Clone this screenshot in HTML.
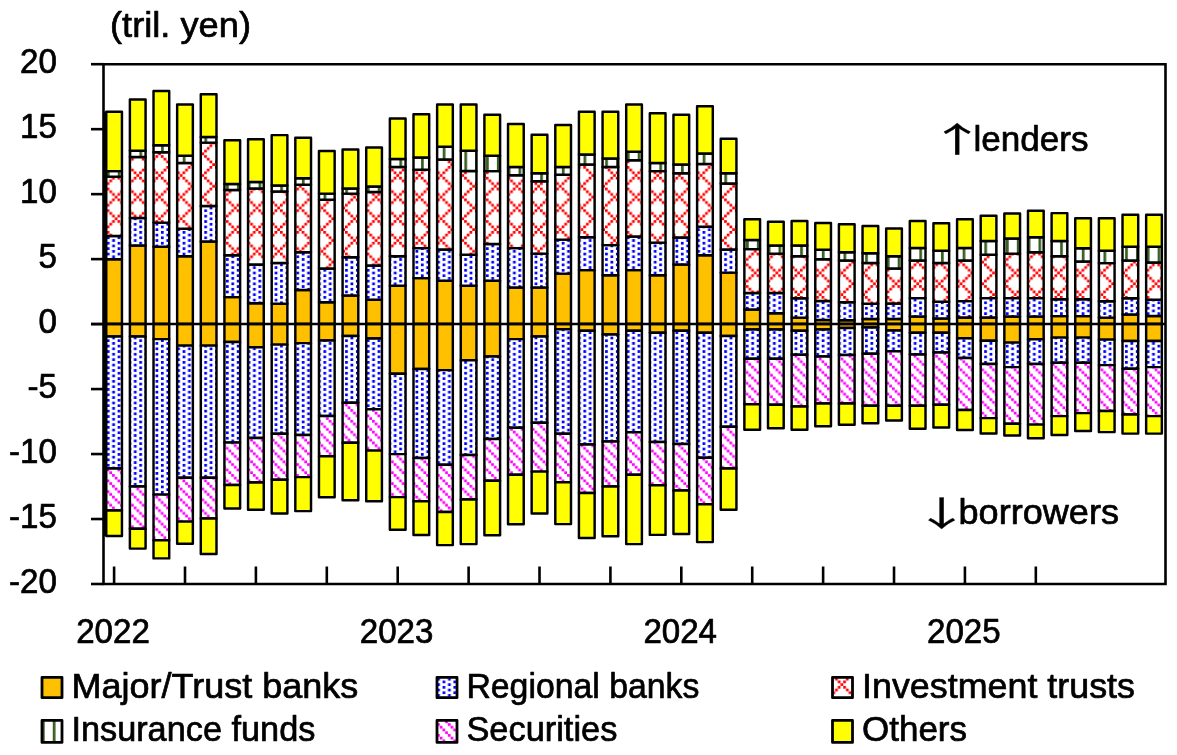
<!DOCTYPE html>
<html lang="en">
<head>
<meta charset="utf-8">
<title>Chart</title>
<style>
html,body{margin:0;padding:0;background:#fff;}
body{width:1177px;height:755px;overflow:hidden;}
svg{display:block;filter:blur(0.45px);}
svg text{font-family:"Liberation Sans",sans-serif;fill:#000;stroke:#000;stroke-width:0.7px;stroke-linejoin:round;}
</style>
</head>
<body>
<svg width="1177" height="755" viewBox="0 0 1177 755">
<rect width="1177" height="755" fill="#fff"/>
<defs>
<pattern id="pB" patternUnits="userSpaceOnUse" x="106.806" y="339.346" width="10.832" height="5.416"><rect width="10.832" height="5.416" fill="#fff"/><rect x="0" y="0" width="2.708" height="2.708" fill="#0000ff"/><rect x="5.416" y="2.708" width="2.708" height="2.708" fill="#0000ff"/></pattern>
<pattern id="pR" patternUnits="userSpaceOnUse" x="20.01" y="14.338" width="21.664" height="21.664"><rect width="21.664" height="21.664" fill="#fff"/><rect x="0" y="0" width="2.708" height="2.708" fill="#ff0000"/><rect x="16.248" y="0" width="2.708" height="2.708" fill="#ff0000"/><rect x="2.708" y="2.708" width="2.708" height="2.708" fill="#ff0000"/><rect x="13.54" y="2.708" width="2.708" height="2.708" fill="#ff0000"/><rect x="5.416" y="5.416" width="2.708" height="2.708" fill="#ff0000"/><rect x="10.832" y="5.416" width="2.708" height="2.708" fill="#ff0000"/><rect x="8.124" y="8.124" width="2.708" height="2.708" fill="#ff0000"/><rect x="5.416" y="10.832" width="2.708" height="2.708" fill="#ff0000"/><rect x="10.832" y="10.832" width="2.708" height="2.708" fill="#ff0000"/><rect x="2.708" y="13.54" width="2.708" height="2.708" fill="#ff0000"/><rect x="13.54" y="13.54" width="2.708" height="2.708" fill="#ff0000"/><rect x="0" y="16.248" width="2.708" height="2.708" fill="#ff0000"/><rect x="16.248" y="16.248" width="2.708" height="2.708" fill="#ff0000"/><rect x="18.956" y="18.956" width="2.708" height="2.708" fill="#ff0000"/></pattern>
<pattern id="pP" patternUnits="userSpaceOnUse" x="816.146" y="365.746" width="10.832" height="10.832"><rect width="10.832" height="10.832" fill="#fff"/><rect x="0" y="0" width="2.708" height="2.708" fill="#ff00ff"/><rect x="2.708" y="2.708" width="2.708" height="2.708" fill="#ff00ff"/><rect x="5.416" y="5.416" width="2.708" height="2.708" fill="#ff00ff"/><rect x="8.124" y="8.124" width="2.708" height="2.708" fill="#ff00ff"/></pattern>
<pattern id="pG" patternUnits="userSpaceOnUse" x="1060.146" y="0" width="10.832" height="10.832"><rect width="10.832" height="10.832" fill="#fff"/><rect width="2.708" height="10.832" fill="#386020"/></pattern>
</defs>
<g fill="none" stroke="#000" stroke-width="2.6" stroke-linecap="butt">
<path d="M103.5 64.2H1165.5V584H103.5Z" />
<path d="M91 64.2H103.5"/>
<path d="M91 129.175H103.5"/>
<path d="M91 194.15H103.5"/>
<path d="M91 259.125H103.5"/>
<path d="M91 324.1H103.5"/>
<path d="M91 389.075H103.5"/>
<path d="M91 454.05H103.5"/>
<path d="M91 519.025H103.5"/>
<path d="M91 584H103.5"/>
<path d="M114.1 584V566.5"/>
<path d="M185.002 584V566.5"/>
<path d="M255.904 584V566.5"/>
<path d="M326.806 584V566.5"/>
<path d="M397.708 584V566.5"/>
<path d="M468.61 584V566.5"/>
<path d="M539.512 584V566.5"/>
<path d="M610.414 584V566.5"/>
<path d="M681.316 584V566.5"/>
<path d="M752.218 584V566.5"/>
<path d="M823.12 584V566.5"/>
<path d="M894.022 584V566.5"/>
<path d="M964.924 584V566.5"/>
<path d="M1035.826 584V566.5"/>
</g>
<g stroke="#000" stroke-width="2.45" stroke-linejoin="round">
<rect x="104" y="111.7" width="1.6" height="424.2" fill="#000" stroke="none"/>
<rect x="106.25" y="259.3" width="15.7" height="64.7" fill="#ffc000"/>
<rect x="106.25" y="235.9" width="15.7" height="23.4" fill="url(#pB)"/>
<rect x="106.25" y="176.6" width="15.7" height="59.3" fill="url(#pR)"/>
<rect x="106.25" y="171.1" width="15.7" height="5.5" fill="url(#pG)"/>
<rect x="106.25" y="111.7" width="15.7" height="59.4" fill="#ffff00"/>
<rect x="106.25" y="324" width="15.7" height="12.4" fill="#ffc000"/>
<rect x="106.25" y="336.4" width="15.7" height="132.1" fill="url(#pB)"/>
<rect x="106.25" y="468.5" width="15.7" height="41.9" fill="url(#pP)"/>
<rect x="106.25" y="510.4" width="15.7" height="25.5" fill="#ffff00"/>
<rect x="129.884" y="245.5" width="15.7" height="78.5" fill="#ffc000"/>
<rect x="129.884" y="218.1" width="15.7" height="27.4" fill="url(#pB)"/>
<rect x="129.884" y="156.9" width="15.7" height="61.2" fill="url(#pR)"/>
<rect x="129.884" y="150.7" width="15.7" height="6.2" fill="url(#pG)"/>
<rect x="129.884" y="99.4" width="15.7" height="51.3" fill="#ffff00"/>
<rect x="129.884" y="324" width="15.7" height="12.4" fill="#ffc000"/>
<rect x="129.884" y="336.4" width="15.7" height="150.1" fill="url(#pB)"/>
<rect x="129.884" y="486.5" width="15.7" height="42.2" fill="url(#pP)"/>
<rect x="129.884" y="528.7" width="15.7" height="19.9" fill="#ffff00"/>
<rect x="153.518" y="246.7" width="15.7" height="77.3" fill="#ffc000"/>
<rect x="153.518" y="222.6" width="15.7" height="24.1" fill="url(#pB)"/>
<rect x="153.518" y="152.2" width="15.7" height="70.4" fill="url(#pR)"/>
<rect x="153.518" y="145.2" width="15.7" height="7" fill="url(#pG)"/>
<rect x="153.518" y="90.9" width="15.7" height="54.3" fill="#ffff00"/>
<rect x="153.518" y="324" width="15.7" height="15.1" fill="#ffc000"/>
<rect x="153.518" y="339.1" width="15.7" height="155.5" fill="url(#pB)"/>
<rect x="153.518" y="494.6" width="15.7" height="45.7" fill="url(#pP)"/>
<rect x="153.518" y="540.3" width="15.7" height="18.1" fill="#ffff00"/>
<rect x="177.152" y="256.3" width="15.7" height="67.7" fill="#ffc000"/>
<rect x="177.152" y="228.7" width="15.7" height="27.6" fill="url(#pB)"/>
<rect x="177.152" y="163" width="15.7" height="65.7" fill="url(#pR)"/>
<rect x="177.152" y="155.8" width="15.7" height="7.2" fill="url(#pG)"/>
<rect x="177.152" y="104.5" width="15.7" height="51.3" fill="#ffff00"/>
<rect x="177.152" y="324" width="15.7" height="21.6" fill="#ffc000"/>
<rect x="177.152" y="345.6" width="15.7" height="132.1" fill="url(#pB)"/>
<rect x="177.152" y="477.7" width="15.7" height="43.9" fill="url(#pP)"/>
<rect x="177.152" y="521.6" width="15.7" height="22.1" fill="#ffff00"/>
<rect x="200.786" y="241.4" width="15.7" height="82.6" fill="#ffc000"/>
<rect x="200.786" y="205.9" width="15.7" height="35.5" fill="url(#pB)"/>
<rect x="200.786" y="142.6" width="15.7" height="63.3" fill="url(#pR)"/>
<rect x="200.786" y="137" width="15.7" height="5.6" fill="url(#pG)"/>
<rect x="200.786" y="94.3" width="15.7" height="42.7" fill="#ffff00"/>
<rect x="200.786" y="324" width="15.7" height="21.6" fill="#ffc000"/>
<rect x="200.786" y="345.6" width="15.7" height="132.1" fill="url(#pB)"/>
<rect x="200.786" y="477.7" width="15.7" height="40.8" fill="url(#pP)"/>
<rect x="200.786" y="518.5" width="15.7" height="35.4" fill="#ffff00"/>
<rect x="224.42" y="297.1" width="15.7" height="26.9" fill="#ffc000"/>
<rect x="224.42" y="255.3" width="15.7" height="41.8" fill="url(#pB)"/>
<rect x="224.42" y="190" width="15.7" height="65.3" fill="url(#pR)"/>
<rect x="224.42" y="184" width="15.7" height="6" fill="url(#pG)"/>
<rect x="224.42" y="140.2" width="15.7" height="43.8" fill="#ffff00"/>
<rect x="224.42" y="324" width="15.7" height="17.9" fill="#ffc000"/>
<rect x="224.42" y="341.9" width="15.7" height="100.7" fill="url(#pB)"/>
<rect x="224.42" y="442.6" width="15.7" height="42.3" fill="url(#pP)"/>
<rect x="224.42" y="484.9" width="15.7" height="23.5" fill="#ffff00"/>
<rect x="248.054" y="303.2" width="15.7" height="20.8" fill="#ffc000"/>
<rect x="248.054" y="264.4" width="15.7" height="38.8" fill="url(#pB)"/>
<rect x="248.054" y="188.5" width="15.7" height="75.9" fill="url(#pR)"/>
<rect x="248.054" y="182" width="15.7" height="6.5" fill="url(#pG)"/>
<rect x="248.054" y="139.2" width="15.7" height="42.8" fill="#ffff00"/>
<rect x="248.054" y="324" width="15.7" height="23.2" fill="#ffc000"/>
<rect x="248.054" y="347.2" width="15.7" height="90.8" fill="url(#pB)"/>
<rect x="248.054" y="438" width="15.7" height="44.4" fill="url(#pP)"/>
<rect x="248.054" y="482.4" width="15.7" height="27.4" fill="#ffff00"/>
<rect x="271.688" y="303.8" width="15.7" height="20.2" fill="#ffc000"/>
<rect x="271.688" y="263" width="15.7" height="40.8" fill="url(#pB)"/>
<rect x="271.688" y="191.5" width="15.7" height="71.5" fill="url(#pR)"/>
<rect x="271.688" y="185.4" width="15.7" height="6.1" fill="url(#pG)"/>
<rect x="271.688" y="135.1" width="15.7" height="50.3" fill="#ffff00"/>
<rect x="271.688" y="324" width="15.7" height="20.6" fill="#ffc000"/>
<rect x="271.688" y="344.6" width="15.7" height="89.1" fill="url(#pB)"/>
<rect x="271.688" y="433.7" width="15.7" height="46.1" fill="url(#pP)"/>
<rect x="271.688" y="479.8" width="15.7" height="33.7" fill="#ffff00"/>
<rect x="295.322" y="289.9" width="15.7" height="34.1" fill="#ffc000"/>
<rect x="295.322" y="252.2" width="15.7" height="37.7" fill="url(#pB)"/>
<rect x="295.322" y="184.8" width="15.7" height="67.4" fill="url(#pR)"/>
<rect x="295.322" y="178.3" width="15.7" height="6.5" fill="url(#pG)"/>
<rect x="295.322" y="137.7" width="15.7" height="40.6" fill="#ffff00"/>
<rect x="295.322" y="324" width="15.7" height="19.1" fill="#ffc000"/>
<rect x="295.322" y="343.1" width="15.7" height="91.8" fill="url(#pB)"/>
<rect x="295.322" y="434.9" width="15.7" height="42.2" fill="url(#pP)"/>
<rect x="295.322" y="477.1" width="15.7" height="34" fill="#ffff00"/>
<rect x="318.956" y="302.2" width="15.7" height="21.8" fill="#ffc000"/>
<rect x="318.956" y="268.5" width="15.7" height="33.7" fill="url(#pB)"/>
<rect x="318.956" y="199.7" width="15.7" height="68.8" fill="url(#pR)"/>
<rect x="318.956" y="193.6" width="15.7" height="6.1" fill="url(#pG)"/>
<rect x="318.956" y="151" width="15.7" height="42.6" fill="#ffff00"/>
<rect x="318.956" y="324" width="15.7" height="16.5" fill="#ffc000"/>
<rect x="318.956" y="340.5" width="15.7" height="75.4" fill="url(#pB)"/>
<rect x="318.956" y="415.9" width="15.7" height="40.3" fill="url(#pP)"/>
<rect x="318.956" y="456.2" width="15.7" height="41" fill="#ffff00"/>
<rect x="342.59" y="295.6" width="15.7" height="28.4" fill="#ffc000"/>
<rect x="342.59" y="257.3" width="15.7" height="38.3" fill="url(#pB)"/>
<rect x="342.59" y="193.6" width="15.7" height="63.7" fill="url(#pR)"/>
<rect x="342.59" y="188.5" width="15.7" height="5.1" fill="url(#pG)"/>
<rect x="342.59" y="149.4" width="15.7" height="39.1" fill="#ffff00"/>
<rect x="342.59" y="324" width="15.7" height="12" fill="#ffc000"/>
<rect x="342.59" y="336" width="15.7" height="66.7" fill="url(#pB)"/>
<rect x="342.59" y="402.7" width="15.7" height="40.1" fill="url(#pP)"/>
<rect x="342.59" y="442.8" width="15.7" height="57.5" fill="#ffff00"/>
<rect x="366.224" y="299.7" width="15.7" height="24.3" fill="#ffc000"/>
<rect x="366.224" y="265.4" width="15.7" height="34.3" fill="url(#pB)"/>
<rect x="366.224" y="192.1" width="15.7" height="73.3" fill="url(#pR)"/>
<rect x="366.224" y="186.4" width="15.7" height="5.7" fill="url(#pG)"/>
<rect x="366.224" y="147.4" width="15.7" height="39" fill="#ffff00"/>
<rect x="366.224" y="324" width="15.7" height="14.5" fill="#ffc000"/>
<rect x="366.224" y="338.5" width="15.7" height="70.7" fill="url(#pB)"/>
<rect x="366.224" y="409.2" width="15.7" height="41.4" fill="url(#pP)"/>
<rect x="366.224" y="450.6" width="15.7" height="50.7" fill="#ffff00"/>
<rect x="389.858" y="285.8" width="15.7" height="38.2" fill="#ffc000"/>
<rect x="389.858" y="256.3" width="15.7" height="29.5" fill="url(#pB)"/>
<rect x="389.858" y="167" width="15.7" height="89.3" fill="url(#pR)"/>
<rect x="389.858" y="158.9" width="15.7" height="8.1" fill="url(#pG)"/>
<rect x="389.858" y="118.4" width="15.7" height="40.5" fill="#ffff00"/>
<rect x="389.858" y="324" width="15.7" height="49.7" fill="#ffc000"/>
<rect x="389.858" y="373.7" width="15.7" height="80.4" fill="url(#pB)"/>
<rect x="389.858" y="454.1" width="15.7" height="43" fill="url(#pP)"/>
<rect x="389.858" y="497.1" width="15.7" height="32.7" fill="#ffff00"/>
<rect x="413.492" y="278.1" width="15.7" height="45.9" fill="#ffc000"/>
<rect x="413.492" y="248.1" width="15.7" height="30" fill="url(#pB)"/>
<rect x="413.492" y="169.7" width="15.7" height="78.4" fill="url(#pR)"/>
<rect x="413.492" y="157.5" width="15.7" height="12.2" fill="url(#pG)"/>
<rect x="413.492" y="114.3" width="15.7" height="43.2" fill="#ffff00"/>
<rect x="413.492" y="324" width="15.7" height="45" fill="#ffc000"/>
<rect x="413.492" y="369" width="15.7" height="89" fill="url(#pB)"/>
<rect x="413.492" y="458" width="15.7" height="43.2" fill="url(#pP)"/>
<rect x="413.492" y="501.2" width="15.7" height="33.7" fill="#ffff00"/>
<rect x="437.126" y="280.7" width="15.7" height="43.3" fill="#ffc000"/>
<rect x="437.126" y="249.5" width="15.7" height="31.2" fill="url(#pB)"/>
<rect x="437.126" y="159.5" width="15.7" height="90" fill="url(#pR)"/>
<rect x="437.126" y="146.7" width="15.7" height="12.8" fill="url(#pG)"/>
<rect x="437.126" y="104.5" width="15.7" height="42.2" fill="#ffff00"/>
<rect x="437.126" y="324" width="15.7" height="46.1" fill="#ffc000"/>
<rect x="437.126" y="370.1" width="15.7" height="94.6" fill="url(#pB)"/>
<rect x="437.126" y="464.7" width="15.7" height="47.3" fill="url(#pP)"/>
<rect x="437.126" y="512" width="15.7" height="33.1" fill="#ffff00"/>
<rect x="460.76" y="285.8" width="15.7" height="38.2" fill="#ffc000"/>
<rect x="460.76" y="254.8" width="15.7" height="31" fill="url(#pB)"/>
<rect x="460.76" y="171.1" width="15.7" height="83.7" fill="url(#pR)"/>
<rect x="460.76" y="150.7" width="15.7" height="20.4" fill="url(#pG)"/>
<rect x="460.76" y="104.5" width="15.7" height="46.2" fill="#ffff00"/>
<rect x="460.76" y="324" width="15.7" height="36.3" fill="#ffc000"/>
<rect x="460.76" y="360.3" width="15.7" height="94.7" fill="url(#pB)"/>
<rect x="460.76" y="455" width="15.7" height="44.5" fill="url(#pP)"/>
<rect x="460.76" y="499.5" width="15.7" height="44.6" fill="#ffff00"/>
<rect x="484.394" y="280.7" width="15.7" height="43.3" fill="#ffc000"/>
<rect x="484.394" y="244" width="15.7" height="36.7" fill="url(#pB)"/>
<rect x="484.394" y="171.1" width="15.7" height="72.9" fill="url(#pR)"/>
<rect x="484.394" y="155.8" width="15.7" height="15.3" fill="url(#pG)"/>
<rect x="484.394" y="114.7" width="15.7" height="41.1" fill="#ffff00"/>
<rect x="484.394" y="324" width="15.7" height="32.4" fill="#ffc000"/>
<rect x="484.394" y="356.4" width="15.7" height="82.6" fill="url(#pB)"/>
<rect x="484.394" y="439" width="15.7" height="41.8" fill="url(#pP)"/>
<rect x="484.394" y="480.8" width="15.7" height="54.5" fill="#ffff00"/>
<rect x="508.028" y="287.5" width="15.7" height="36.5" fill="#ffc000"/>
<rect x="508.028" y="248.1" width="15.7" height="39.4" fill="url(#pB)"/>
<rect x="508.028" y="175.2" width="15.7" height="72.9" fill="url(#pR)"/>
<rect x="508.028" y="167" width="15.7" height="8.2" fill="url(#pG)"/>
<rect x="508.028" y="123.9" width="15.7" height="43.1" fill="#ffff00"/>
<rect x="508.028" y="324" width="15.7" height="15.1" fill="#ffc000"/>
<rect x="508.028" y="339.1" width="15.7" height="88.7" fill="url(#pB)"/>
<rect x="508.028" y="427.8" width="15.7" height="46.9" fill="url(#pP)"/>
<rect x="508.028" y="474.7" width="15.7" height="49.6" fill="#ffff00"/>
<rect x="531.662" y="287.5" width="15.7" height="36.5" fill="#ffc000"/>
<rect x="531.662" y="253.6" width="15.7" height="33.9" fill="url(#pB)"/>
<rect x="531.662" y="181.3" width="15.7" height="72.3" fill="url(#pR)"/>
<rect x="531.662" y="173.2" width="15.7" height="8.1" fill="url(#pG)"/>
<rect x="531.662" y="134.7" width="15.7" height="38.5" fill="#ffff00"/>
<rect x="531.662" y="324" width="15.7" height="12.4" fill="#ffc000"/>
<rect x="531.662" y="336.4" width="15.7" height="86.3" fill="url(#pB)"/>
<rect x="531.662" y="422.7" width="15.7" height="48.9" fill="url(#pP)"/>
<rect x="531.662" y="471.6" width="15.7" height="41.9" fill="#ffff00"/>
<rect x="555.296" y="273.6" width="15.7" height="50.4" fill="#ffc000"/>
<rect x="555.296" y="239.6" width="15.7" height="34" fill="url(#pB)"/>
<rect x="555.296" y="174.8" width="15.7" height="64.8" fill="url(#pR)"/>
<rect x="555.296" y="167" width="15.7" height="7.8" fill="url(#pG)"/>
<rect x="555.296" y="124.9" width="15.7" height="42.1" fill="#ffff00"/>
<rect x="555.296" y="324" width="15.7" height="5.3" fill="#ffc000"/>
<rect x="555.296" y="329.3" width="15.7" height="104.4" fill="url(#pB)"/>
<rect x="555.296" y="433.7" width="15.7" height="48.5" fill="url(#pP)"/>
<rect x="555.296" y="482.2" width="15.7" height="41.9" fill="#ffff00"/>
<rect x="578.93" y="270.1" width="15.7" height="53.9" fill="#ffc000"/>
<rect x="578.93" y="237.3" width="15.7" height="32.8" fill="url(#pB)"/>
<rect x="578.93" y="164.4" width="15.7" height="72.9" fill="url(#pR)"/>
<rect x="578.93" y="154.4" width="15.7" height="10" fill="url(#pG)"/>
<rect x="578.93" y="111.7" width="15.7" height="42.7" fill="#ffff00"/>
<rect x="578.93" y="324" width="15.7" height="6.8" fill="#ffc000"/>
<rect x="578.93" y="330.8" width="15.7" height="113.7" fill="url(#pB)"/>
<rect x="578.93" y="444.5" width="15.7" height="48.5" fill="url(#pP)"/>
<rect x="578.93" y="493" width="15.7" height="45" fill="#ffff00"/>
<rect x="602.564" y="275.2" width="15.7" height="48.8" fill="#ffc000"/>
<rect x="602.564" y="245.1" width="15.7" height="30.1" fill="url(#pB)"/>
<rect x="602.564" y="167" width="15.7" height="78.1" fill="url(#pR)"/>
<rect x="602.564" y="158.5" width="15.7" height="8.5" fill="url(#pG)"/>
<rect x="602.564" y="111.7" width="15.7" height="46.8" fill="#ffff00"/>
<rect x="602.564" y="324" width="15.7" height="10.4" fill="#ffc000"/>
<rect x="602.564" y="334.4" width="15.7" height="107.1" fill="url(#pB)"/>
<rect x="602.564" y="441.5" width="15.7" height="45" fill="url(#pP)"/>
<rect x="602.564" y="486.5" width="15.7" height="49.8" fill="#ffff00"/>
<rect x="626.198" y="270.1" width="15.7" height="53.9" fill="#ffc000"/>
<rect x="626.198" y="236.5" width="15.7" height="33.6" fill="url(#pB)"/>
<rect x="626.198" y="160.3" width="15.7" height="76.2" fill="url(#pR)"/>
<rect x="626.198" y="151.8" width="15.7" height="8.5" fill="url(#pG)"/>
<rect x="626.198" y="104.5" width="15.7" height="47.3" fill="#ffff00"/>
<rect x="626.198" y="324" width="15.7" height="6.8" fill="#ffc000"/>
<rect x="626.198" y="330.8" width="15.7" height="101.5" fill="url(#pB)"/>
<rect x="626.198" y="432.3" width="15.7" height="42.4" fill="url(#pP)"/>
<rect x="626.198" y="474.7" width="15.7" height="69.4" fill="#ffff00"/>
<rect x="649.832" y="275.2" width="15.7" height="48.8" fill="#ffc000"/>
<rect x="649.832" y="242.6" width="15.7" height="32.6" fill="url(#pB)"/>
<rect x="649.832" y="171.1" width="15.7" height="71.5" fill="url(#pR)"/>
<rect x="649.832" y="163" width="15.7" height="8.1" fill="url(#pG)"/>
<rect x="649.832" y="113.3" width="15.7" height="49.7" fill="#ffff00"/>
<rect x="649.832" y="324" width="15.7" height="8.8" fill="#ffc000"/>
<rect x="649.832" y="332.8" width="15.7" height="109.2" fill="url(#pB)"/>
<rect x="649.832" y="442" width="15.7" height="43.3" fill="url(#pP)"/>
<rect x="649.832" y="485.3" width="15.7" height="49.6" fill="#ffff00"/>
<rect x="673.466" y="264.4" width="15.7" height="59.6" fill="#ffc000"/>
<rect x="673.466" y="237.5" width="15.7" height="26.9" fill="url(#pB)"/>
<rect x="673.466" y="173.2" width="15.7" height="64.3" fill="url(#pR)"/>
<rect x="673.466" y="164.4" width="15.7" height="8.8" fill="url(#pG)"/>
<rect x="673.466" y="114.7" width="15.7" height="49.7" fill="#ffff00"/>
<rect x="673.466" y="324" width="15.7" height="6.8" fill="#ffc000"/>
<rect x="673.466" y="330.8" width="15.7" height="113.2" fill="url(#pB)"/>
<rect x="673.466" y="444" width="15.7" height="46.4" fill="url(#pP)"/>
<rect x="673.466" y="490.4" width="15.7" height="43.5" fill="#ffff00"/>
<rect x="697.1" y="255.3" width="15.7" height="68.7" fill="#ffc000"/>
<rect x="697.1" y="226.7" width="15.7" height="28.6" fill="url(#pB)"/>
<rect x="697.1" y="164" width="15.7" height="62.7" fill="url(#pR)"/>
<rect x="697.1" y="153.4" width="15.7" height="10.6" fill="url(#pG)"/>
<rect x="697.1" y="106.2" width="15.7" height="47.2" fill="#ffff00"/>
<rect x="697.1" y="324" width="15.7" height="8.8" fill="#ffc000"/>
<rect x="697.1" y="332.8" width="15.7" height="125" fill="url(#pB)"/>
<rect x="697.1" y="457.8" width="15.7" height="46.4" fill="url(#pP)"/>
<rect x="697.1" y="504.2" width="15.7" height="37.9" fill="#ffff00"/>
<rect x="720.734" y="272.6" width="15.7" height="51.4" fill="#ffc000"/>
<rect x="720.734" y="249.5" width="15.7" height="23.1" fill="url(#pB)"/>
<rect x="720.734" y="183.4" width="15.7" height="66.1" fill="url(#pR)"/>
<rect x="720.734" y="173.2" width="15.7" height="10.2" fill="url(#pG)"/>
<rect x="720.734" y="138.8" width="15.7" height="34.4" fill="#ffff00"/>
<rect x="720.734" y="324" width="15.7" height="12" fill="#ffc000"/>
<rect x="720.734" y="336" width="15.7" height="90.7" fill="url(#pB)"/>
<rect x="720.734" y="426.7" width="15.7" height="41.8" fill="url(#pP)"/>
<rect x="720.734" y="468.5" width="15.7" height="41.3" fill="#ffff00"/>
<rect x="744.368" y="309.5" width="15.7" height="14.5" fill="#ffc000"/>
<rect x="744.368" y="293" width="15.7" height="16.5" fill="url(#pB)"/>
<rect x="744.368" y="249.1" width="15.7" height="43.9" fill="url(#pR)"/>
<rect x="744.368" y="240" width="15.7" height="9.1" fill="url(#pG)"/>
<rect x="744.368" y="219.2" width="15.7" height="20.8" fill="#ffff00"/>
<rect x="744.368" y="324" width="15.7" height="5.4" fill="#ffc000"/>
<rect x="744.368" y="329.4" width="15.7" height="29.4" fill="url(#pB)"/>
<rect x="744.368" y="358.8" width="15.7" height="45.5" fill="url(#pP)"/>
<rect x="744.368" y="404.3" width="15.7" height="25.4" fill="#ffff00"/>
<rect x="768.002" y="313.2" width="15.7" height="10.8" fill="#ffc000"/>
<rect x="768.002" y="293" width="15.7" height="20.2" fill="url(#pB)"/>
<rect x="768.002" y="253.6" width="15.7" height="39.4" fill="url(#pR)"/>
<rect x="768.002" y="245.5" width="15.7" height="8.1" fill="url(#pG)"/>
<rect x="768.002" y="221.7" width="15.7" height="23.8" fill="#ffff00"/>
<rect x="768.002" y="324" width="15.7" height="5.4" fill="#ffc000"/>
<rect x="768.002" y="329.4" width="15.7" height="29.4" fill="url(#pB)"/>
<rect x="768.002" y="358.8" width="15.7" height="45.9" fill="url(#pP)"/>
<rect x="768.002" y="404.7" width="15.7" height="23.6" fill="#ffff00"/>
<rect x="791.636" y="317.6" width="15.7" height="6.4" fill="#ffc000"/>
<rect x="791.636" y="298.2" width="15.7" height="19.4" fill="url(#pB)"/>
<rect x="791.636" y="256.3" width="15.7" height="41.9" fill="url(#pR)"/>
<rect x="791.636" y="245.5" width="15.7" height="10.8" fill="url(#pG)"/>
<rect x="791.636" y="220.9" width="15.7" height="24.6" fill="#ffff00"/>
<rect x="791.636" y="324" width="15.7" height="6.7" fill="#ffc000"/>
<rect x="791.636" y="330.7" width="15.7" height="24" fill="url(#pB)"/>
<rect x="791.636" y="354.7" width="15.7" height="51.7" fill="url(#pP)"/>
<rect x="791.636" y="406.4" width="15.7" height="23.3" fill="#ffff00"/>
<rect x="815.27" y="320" width="15.7" height="4" fill="#ffc000"/>
<rect x="815.27" y="301" width="15.7" height="19" fill="url(#pB)"/>
<rect x="815.27" y="259.3" width="15.7" height="41.7" fill="url(#pR)"/>
<rect x="815.27" y="249.7" width="15.7" height="9.6" fill="url(#pG)"/>
<rect x="815.27" y="222.9" width="15.7" height="26.8" fill="#ffff00"/>
<rect x="815.27" y="324" width="15.7" height="5.4" fill="#ffc000"/>
<rect x="815.27" y="329.4" width="15.7" height="27.1" fill="url(#pB)"/>
<rect x="815.27" y="356.5" width="15.7" height="46.9" fill="url(#pP)"/>
<rect x="815.27" y="403.4" width="15.7" height="22.9" fill="#ffff00"/>
<rect x="838.904" y="320.3" width="15.7" height="3.7" fill="#ffc000"/>
<rect x="838.904" y="302.2" width="15.7" height="18.1" fill="url(#pB)"/>
<rect x="838.904" y="260.4" width="15.7" height="41.8" fill="url(#pR)"/>
<rect x="838.904" y="252.2" width="15.7" height="8.2" fill="url(#pG)"/>
<rect x="838.904" y="224.3" width="15.7" height="27.9" fill="#ffff00"/>
<rect x="838.904" y="324" width="15.7" height="4" fill="#ffc000"/>
<rect x="838.904" y="328" width="15.7" height="27" fill="url(#pB)"/>
<rect x="838.904" y="355" width="15.7" height="48.4" fill="url(#pP)"/>
<rect x="838.904" y="403.4" width="15.7" height="21.3" fill="#ffff00"/>
<rect x="862.538" y="319" width="15.7" height="5" fill="#ffc000"/>
<rect x="862.538" y="303.7" width="15.7" height="15.3" fill="url(#pB)"/>
<rect x="862.538" y="263" width="15.7" height="40.7" fill="url(#pR)"/>
<rect x="862.538" y="253.2" width="15.7" height="9.8" fill="url(#pG)"/>
<rect x="862.538" y="226" width="15.7" height="27.2" fill="#ffff00"/>
<rect x="862.538" y="324" width="15.7" height="3.5" fill="#ffc000"/>
<rect x="862.538" y="327.5" width="15.7" height="26.2" fill="url(#pB)"/>
<rect x="862.538" y="353.7" width="15.7" height="52.1" fill="url(#pP)"/>
<rect x="862.538" y="405.8" width="15.7" height="17.5" fill="#ffff00"/>
<rect x="886.172" y="319" width="15.7" height="5" fill="#ffc000"/>
<rect x="886.172" y="303.4" width="15.7" height="15.6" fill="url(#pB)"/>
<rect x="886.172" y="268.5" width="15.7" height="34.9" fill="url(#pR)"/>
<rect x="886.172" y="256.3" width="15.7" height="12.2" fill="url(#pG)"/>
<rect x="886.172" y="228.4" width="15.7" height="27.9" fill="#ffff00"/>
<rect x="886.172" y="324" width="15.7" height="6.5" fill="#ffc000"/>
<rect x="886.172" y="330.5" width="15.7" height="20.7" fill="url(#pB)"/>
<rect x="886.172" y="351.2" width="15.7" height="54.6" fill="url(#pP)"/>
<rect x="886.172" y="405.8" width="15.7" height="14.8" fill="#ffff00"/>
<rect x="909.806" y="316.4" width="15.7" height="7.6" fill="#ffc000"/>
<rect x="909.806" y="298.1" width="15.7" height="18.3" fill="url(#pB)"/>
<rect x="909.806" y="260.4" width="15.7" height="37.7" fill="url(#pR)"/>
<rect x="909.806" y="248.1" width="15.7" height="12.3" fill="url(#pG)"/>
<rect x="909.806" y="220.9" width="15.7" height="27.2" fill="#ffff00"/>
<rect x="909.806" y="324" width="15.7" height="8.8" fill="#ffc000"/>
<rect x="909.806" y="332.8" width="15.7" height="21.7" fill="url(#pB)"/>
<rect x="909.806" y="354.5" width="15.7" height="51.3" fill="url(#pP)"/>
<rect x="909.806" y="405.8" width="15.7" height="23" fill="#ffff00"/>
<rect x="933.44" y="318.5" width="15.7" height="5.5" fill="#ffc000"/>
<rect x="933.44" y="301.7" width="15.7" height="16.8" fill="url(#pB)"/>
<rect x="933.44" y="263" width="15.7" height="38.7" fill="url(#pR)"/>
<rect x="933.44" y="250.8" width="15.7" height="12.2" fill="url(#pG)"/>
<rect x="933.44" y="223.3" width="15.7" height="27.5" fill="#ffff00"/>
<rect x="933.44" y="324" width="15.7" height="8.8" fill="#ffc000"/>
<rect x="933.44" y="332.8" width="15.7" height="19.6" fill="url(#pB)"/>
<rect x="933.44" y="352.4" width="15.7" height="52.4" fill="url(#pP)"/>
<rect x="933.44" y="404.8" width="15.7" height="22.6" fill="#ffff00"/>
<rect x="957.074" y="317.4" width="15.7" height="6.6" fill="#ffc000"/>
<rect x="957.074" y="301.1" width="15.7" height="16.3" fill="url(#pB)"/>
<rect x="957.074" y="260.4" width="15.7" height="40.7" fill="url(#pR)"/>
<rect x="957.074" y="248.1" width="15.7" height="12.3" fill="url(#pG)"/>
<rect x="957.074" y="219.2" width="15.7" height="28.9" fill="#ffff00"/>
<rect x="957.074" y="324" width="15.7" height="14.3" fill="#ffc000"/>
<rect x="957.074" y="338.3" width="15.7" height="19.6" fill="url(#pB)"/>
<rect x="957.074" y="357.9" width="15.7" height="52" fill="url(#pP)"/>
<rect x="957.074" y="409.9" width="15.7" height="20.1" fill="#ffff00"/>
<rect x="980.708" y="317.4" width="15.7" height="6.6" fill="#ffc000"/>
<rect x="980.708" y="298.1" width="15.7" height="19.3" fill="url(#pB)"/>
<rect x="980.708" y="254.8" width="15.7" height="43.3" fill="url(#pR)"/>
<rect x="980.708" y="241" width="15.7" height="13.8" fill="url(#pG)"/>
<rect x="980.708" y="215.8" width="15.7" height="25.2" fill="#ffff00"/>
<rect x="980.708" y="324" width="15.7" height="16.7" fill="#ffc000"/>
<rect x="980.708" y="340.7" width="15.7" height="23.3" fill="url(#pB)"/>
<rect x="980.708" y="364" width="15.7" height="54.1" fill="url(#pP)"/>
<rect x="980.708" y="418.1" width="15.7" height="15.4" fill="#ffff00"/>
<rect x="1004.342" y="316.4" width="15.7" height="7.6" fill="#ffc000"/>
<rect x="1004.342" y="298.1" width="15.7" height="18.3" fill="url(#pB)"/>
<rect x="1004.342" y="253.6" width="15.7" height="44.5" fill="url(#pR)"/>
<rect x="1004.342" y="238.5" width="15.7" height="15.1" fill="url(#pG)"/>
<rect x="1004.342" y="213.5" width="15.7" height="25" fill="#ffff00"/>
<rect x="1004.342" y="324" width="15.7" height="18.6" fill="#ffc000"/>
<rect x="1004.342" y="342.6" width="15.7" height="24.5" fill="url(#pB)"/>
<rect x="1004.342" y="367.1" width="15.7" height="56.7" fill="url(#pP)"/>
<rect x="1004.342" y="423.8" width="15.7" height="11.7" fill="#ffff00"/>
<rect x="1027.976" y="316.4" width="15.7" height="7.6" fill="#ffc000"/>
<rect x="1027.976" y="298.1" width="15.7" height="18.3" fill="url(#pB)"/>
<rect x="1027.976" y="252.2" width="15.7" height="45.9" fill="url(#pR)"/>
<rect x="1027.976" y="237.3" width="15.7" height="14.9" fill="url(#pG)"/>
<rect x="1027.976" y="210.7" width="15.7" height="26.6" fill="#ffff00"/>
<rect x="1027.976" y="324" width="15.7" height="15.2" fill="#ffc000"/>
<rect x="1027.976" y="339.2" width="15.7" height="24.8" fill="url(#pB)"/>
<rect x="1027.976" y="364" width="15.7" height="60.6" fill="url(#pP)"/>
<rect x="1027.976" y="424.6" width="15.7" height="13.6" fill="#ffff00"/>
<rect x="1051.61" y="316.1" width="15.7" height="7.9" fill="#ffc000"/>
<rect x="1051.61" y="299.2" width="15.7" height="16.9" fill="url(#pB)"/>
<rect x="1051.61" y="256.3" width="15.7" height="42.9" fill="url(#pR)"/>
<rect x="1051.61" y="241" width="15.7" height="15.3" fill="url(#pG)"/>
<rect x="1051.61" y="213.1" width="15.7" height="27.9" fill="#ffff00"/>
<rect x="1051.61" y="324" width="15.7" height="13.6" fill="#ffc000"/>
<rect x="1051.61" y="337.6" width="15.7" height="25.1" fill="url(#pB)"/>
<rect x="1051.61" y="362.7" width="15.7" height="53.4" fill="url(#pP)"/>
<rect x="1051.61" y="416.1" width="15.7" height="18.9" fill="#ffff00"/>
<rect x="1075.244" y="316.1" width="15.7" height="7.9" fill="#ffc000"/>
<rect x="1075.244" y="299.2" width="15.7" height="16.9" fill="url(#pB)"/>
<rect x="1075.244" y="261.4" width="15.7" height="37.8" fill="url(#pR)"/>
<rect x="1075.244" y="248.2" width="15.7" height="13.2" fill="url(#pG)"/>
<rect x="1075.244" y="218.3" width="15.7" height="29.9" fill="#ffff00"/>
<rect x="1075.244" y="324" width="15.7" height="13.6" fill="#ffc000"/>
<rect x="1075.244" y="337.6" width="15.7" height="25.1" fill="url(#pB)"/>
<rect x="1075.244" y="362.7" width="15.7" height="50.4" fill="url(#pP)"/>
<rect x="1075.244" y="413.1" width="15.7" height="17.8" fill="#ffff00"/>
<rect x="1098.878" y="317.6" width="15.7" height="6.4" fill="#ffc000"/>
<rect x="1098.878" y="301.2" width="15.7" height="16.4" fill="url(#pB)"/>
<rect x="1098.878" y="263.1" width="15.7" height="38.1" fill="url(#pR)"/>
<rect x="1098.878" y="250.8" width="15.7" height="12.3" fill="url(#pG)"/>
<rect x="1098.878" y="218.3" width="15.7" height="32.5" fill="#ffff00"/>
<rect x="1098.878" y="324" width="15.7" height="15.6" fill="#ffc000"/>
<rect x="1098.878" y="339.6" width="15.7" height="25.5" fill="url(#pB)"/>
<rect x="1098.878" y="365.1" width="15.7" height="45.9" fill="url(#pP)"/>
<rect x="1098.878" y="411" width="15.7" height="21.1" fill="#ffff00"/>
<rect x="1122.512" y="314.5" width="15.7" height="9.5" fill="#ffc000"/>
<rect x="1122.512" y="298.2" width="15.7" height="16.3" fill="url(#pB)"/>
<rect x="1122.512" y="260.4" width="15.7" height="37.8" fill="url(#pR)"/>
<rect x="1122.512" y="246.7" width="15.7" height="13.7" fill="url(#pG)"/>
<rect x="1122.512" y="214.8" width="15.7" height="31.9" fill="#ffff00"/>
<rect x="1122.512" y="324" width="15.7" height="17" fill="#ffc000"/>
<rect x="1122.512" y="341" width="15.7" height="27.8" fill="url(#pB)"/>
<rect x="1122.512" y="368.8" width="15.7" height="45.7" fill="url(#pP)"/>
<rect x="1122.512" y="414.5" width="15.7" height="19.1" fill="#ffff00"/>
<rect x="1146.146" y="316.1" width="15.7" height="7.9" fill="#ffc000"/>
<rect x="1146.146" y="299.8" width="15.7" height="16.3" fill="url(#pB)"/>
<rect x="1146.146" y="262.4" width="15.7" height="37.4" fill="url(#pR)"/>
<rect x="1146.146" y="246.7" width="15.7" height="15.7" fill="url(#pG)"/>
<rect x="1146.146" y="214.8" width="15.7" height="31.9" fill="#ffff00"/>
<rect x="1146.146" y="324" width="15.7" height="17" fill="#ffc000"/>
<rect x="1146.146" y="341" width="15.7" height="26.1" fill="url(#pB)"/>
<rect x="1146.146" y="367.1" width="15.7" height="49" fill="url(#pP)"/>
<rect x="1146.146" y="416.1" width="15.7" height="17.5" fill="#ffff00"/>
</g>
<g fill="none" stroke="#000" stroke-width="2.5">
<path d="M91 324H1165.5"/>
</g>
<g stroke="#000" stroke-width="2.8" stroke-linejoin="round">
<rect x="42" y="677.35" width="20" height="20.3" fill="#ffc000"/>
<rect x="42" y="720.45" width="20" height="22" fill="url(#pG)"/>
<rect x="437" y="677.35" width="20" height="20.3" fill="url(#pB)"/>
<rect x="437" y="720.45" width="20" height="22" fill="url(#pP)"/>
<rect x="832.5" y="677.35" width="20" height="20.3" fill="url(#pR)"/>
<rect x="832.5" y="720.45" width="20" height="22" fill="#ffff00"/>
</g>
<g>
<text transform="translate(56.9 73) scale(0.96 1)" font-size="34.5" text-anchor="end" stroke-width="0.35">20</text>
<text transform="translate(56.9 137.975) scale(0.96 1)" font-size="34.5" text-anchor="end" stroke-width="0.35">15</text>
<text transform="translate(56.9 202.95) scale(0.96 1)" font-size="34.5" text-anchor="end" stroke-width="0.35">10</text>
<text transform="translate(56.9 267.925) scale(0.96 1)" font-size="34.5" text-anchor="end" stroke-width="0.35">5</text>
<text transform="translate(56.9 332.9) scale(0.96 1)" font-size="34.5" text-anchor="end" stroke-width="0.35">0</text>
<text transform="translate(56.9 397.875) scale(0.96 1)" font-size="34.5" text-anchor="end" stroke-width="0.35">-5</text>
<text transform="translate(56.9 462.85) scale(0.96 1)" font-size="34.5" text-anchor="end" stroke-width="0.35">-10</text>
<text transform="translate(56.9 527.825) scale(0.96 1)" font-size="34.5" text-anchor="end" stroke-width="0.35">-15</text>
<text transform="translate(56.9 592.8) scale(0.96 1)" font-size="34.5" text-anchor="end" stroke-width="0.35">-20</text>
<text transform="translate(113 642.9) scale(0.96 1)" font-size="34.5" text-anchor="middle" stroke-width="0.35">2022</text>
<text transform="translate(396.608 642.9) scale(0.96 1)" font-size="34.5" text-anchor="middle" stroke-width="0.35">2023</text>
<text transform="translate(680.216 642.9) scale(0.96 1)" font-size="34.5" text-anchor="middle" stroke-width="0.35">2024</text>
<text transform="translate(963.824 642.9) scale(0.96 1)" font-size="34.5" text-anchor="middle" stroke-width="0.35">2025</text>
<text x="110" y="37.2" font-size="35" textLength="141" lengthAdjust="spacingAndGlyphs">(tril. yen)</text>
<text x="973.5" y="150.6" font-size="35" textLength="115" lengthAdjust="spacingAndGlyphs">lenders</text>
<text x="958.5" y="524.4" font-size="35" textLength="160.5" lengthAdjust="spacingAndGlyphs">borrowers</text>
<text transform="translate(957.1 151.8) scale(1.58 0.95)" font-size="36" text-anchor="middle" style="font-family:'Noto Sans CJK JP','DejaVu Sans',sans-serif;stroke-width:0.3px">↑</text>
<text transform="translate(941.6 525.8) scale(1.58 0.95)" font-size="36" text-anchor="middle" style="font-family:'Noto Sans CJK JP','DejaVu Sans',sans-serif;stroke-width:0.3px">↓</text>
<text x="71.4" y="697.6" font-size="35" textLength="287" lengthAdjust="spacingAndGlyphs">Major/Trust banks</text>
<text x="71.4" y="740.6" font-size="35" textLength="244" lengthAdjust="spacingAndGlyphs">Insurance funds</text>
<text x="466.4" y="697.6" font-size="35" textLength="233" lengthAdjust="spacingAndGlyphs">Regional banks</text>
<text x="466.4" y="740.6" font-size="35" textLength="151" lengthAdjust="spacingAndGlyphs">Securities</text>
<text x="862" y="697.6" font-size="35" textLength="273" lengthAdjust="spacingAndGlyphs">Investment trusts</text>
<text x="862" y="740.6" font-size="35" textLength="105" lengthAdjust="spacingAndGlyphs">Others</text>
</g>
</svg>
</body>
</html>
